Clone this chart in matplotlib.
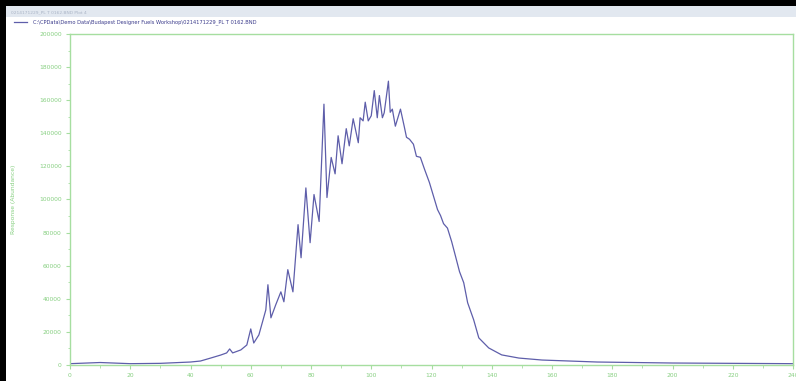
import matplotlib
matplotlib.use("Agg")
import matplotlib.pyplot as plt
from matplotlib.lines import Line2D
from matplotlib.patches import Rectangle
from matplotlib.ticker import MultipleLocator

# Chromatogram trace: retention time vs. response
rt = [0, 10, 20, 30, 40, 43.3, 46.7, 50, 52, 53, 54, 56.7, 58.7, 60, 61,
      62.7, 64, 65, 65.7, 66.7, 68.3, 70, 71, 72.3, 74, 75.7, 76.7, 78.3,
      79.7, 81, 82.7, 84.3, 85.3, 86.7, 88, 89, 90.3, 91.7, 92.7, 94, 95.7,
      96.3, 97.3, 98, 99, 100, 101, 102, 102.7, 103.7, 104.3, 105.7, 106.3,
      107, 108, 109.7, 111, 111.7, 112.7, 114, 115, 116.3, 117.7, 119.3,
      120.7, 122, 123, 124, 125.3, 126.7, 128, 129.3, 130.7, 132, 134,
      135.7, 139, 143.3, 149, 156.7, 175, 200, 240]
response = [800, 1500, 800, 1000, 1800, 2400, 4200, 6000, 7300, 9700, 7300,
            9100, 12100, 21800, 13300, 18200, 26700, 33300, 48500, 28500,
            36400, 44200, 38200, 57600, 44200, 84800, 64800, 107000, 73900,
            103000, 86700, 157600, 101200, 125400, 115500, 138500, 121600,
            142800, 132400, 148800, 134300, 149400, 147500, 158800, 147500,
            150600, 165800, 149400, 162800, 149400, 152400, 171500, 152700,
            154600, 144300, 154600, 143700, 137600, 136400, 133400, 126100,
            125500, 118200, 110300, 101800, 93900, 90300, 85400, 82700,
            74500, 65500, 56400, 49700, 37600, 27300, 16400, 10300, 6100,
            4200, 3000, 1800, 1200, 800]

x_ticks = list(range(0, 241, 20))
y_ticks = list(range(0, 200001, 20000))

window_title = "0214171229_PL T 0162.BND Plot 4"
trace_label = r"C:\CPData\Demo Data\Budapest Designer Fuels Workshop\0214171229_PL T 0162.BND"
y_label = "Response (Abundance)"

frame_green = "#a6dea0"
text_green = "#86cf80"
trace_blue = "#5e5eaa"

W, H = 796, 381
fig = plt.figure(figsize=(W / 100, H / 100), dpi=100)
fig.patch.set_facecolor("white")

def fx(px):
    return px / W

def fy(py):
    return 1 - py / H

# window chrome: dark border and title strip
fig.patches.append(Rectangle((0, fy(6)), 1, 6 / H, transform=fig.transFigure,
                             facecolor="black", edgecolor="none", zorder=5))
fig.patches.append(Rectangle((0, 0), fx(6), 1, transform=fig.transFigure,
                             facecolor="black", edgecolor="none", zorder=5))
fig.patches.append(Rectangle((fx(6), fy(17)), 1, 11 / H, transform=fig.transFigure,
                             facecolor="#e2e8f0", edgecolor="none", zorder=1))
fig.text(fx(11), fy(12), window_title, fontsize=3.2, color="#aab4c6",
         va="center", ha="left")

# series legend line
fig.add_artist(Line2D([fx(14), fx(27)], [fy(22), fy(22)], transform=fig.transFigure,
                      color=trace_blue, lw=0.9))
fig.text(fx(33), fy(22), trace_label, fontsize=3.7, color="#3c3c8c",
         va="center", ha="left")

ax = fig.add_axes([fx(70), fy(365), fx(793) - fx(70), fy(34) - fy(365)])
ax.plot(rt, response, color=trace_blue, lw=0.9)

ax.set_xlim(0, 240)
ax.set_ylim(0, 200000)
ax.set_xticks(x_ticks)
ax.set_yticks(y_ticks)
ax.xaxis.set_minor_locator(MultipleLocator(10))
ax.yaxis.set_minor_locator(MultipleLocator(10000))
ax.set_xticklabels([str(v) for v in x_ticks])
ax.set_yticklabels([str(v) for v in y_ticks])

for s in ax.spines.values():
    s.set_color(frame_green)
    s.set_linewidth(1.0)

ax.tick_params(axis="both", which="major", colors=frame_green, labelcolor=text_green,
               labelsize=4.3, length=3, width=0.8, pad=3)
ax.tick_params(axis="both", which="minor", colors=frame_green, length=1.8, width=0.6)

ax.set_ylabel(y_label, fontsize=4.3, color=text_green)
ax.yaxis.set_label_coords(-0.074, 0.5)

fig.savefig("out.png", dpi=100)
